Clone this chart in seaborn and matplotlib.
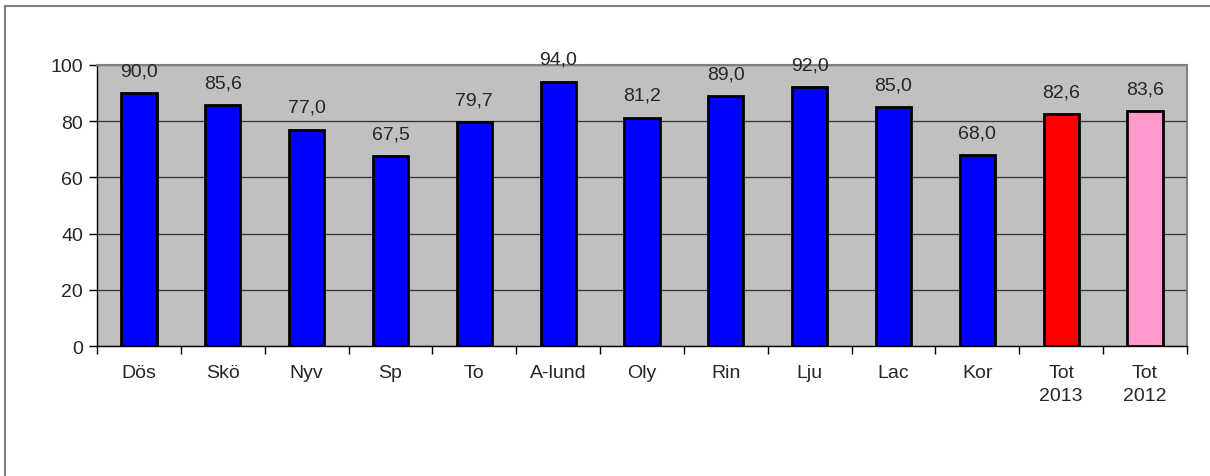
import matplotlib
matplotlib.use("Agg")
import matplotlib.pyplot as plt
import seaborn as sns
import pandas as pd
from matplotlib.patches import Rectangle

categories = ["Dös", "Skö", "Nyv", "Sp", "To", "A-lund", "Oly", "Rin", "Lju", "Lac", "Kor", "Tot\n2013", "Tot\n2012"]
values = [90.0, 85.6, 77.0, 67.5, 79.7, 94.0, 81.2, 89.0, 92.0, 85.0, 68.0, 82.6, 83.6]
colors = ["#0000FF"] * 11 + ["#FF0000", "#FF99CC"]
yticks = [0, 20, 40, 60, 80, 100]

sns.set_theme(style="white")
plt.rcParams['font.family'] = ['Liberation Sans', 'DejaVu Sans']

df = pd.DataFrame({"cat": categories, "val": values})
FS = 14

fig = plt.figure(figsize=(12.10, 4.77), dpi=100)
fig.patch.set_facecolor("white")
ax = fig.add_axes([97/1210, 1 - 347/477, (1187-97)/1210, (347-66)/477])

sns.barplot(data=df, x="cat", y="val", hue="cat", palette=colors, legend=False,
            width=0.42, edgecolor="black", linewidth=2, saturation=1, ax=ax, zorder=3)

ax.set_facecolor("#C0C0C0")
ax.set_ylim(0, 100)
ax.set_xlim(-0.5, len(categories) - 0.5)
ax.set_yticks(yticks)
ax.set_yticklabels([str(t) for t in yticks], fontsize=FS)
ax.yaxis.grid(True, color="#000000", linewidth=0.9, alpha=0.75, zorder=1)
ax.set_axisbelow(True)
ax.set_xlabel("")
ax.set_ylabel("")

ax.set_xticks(range(len(categories)))
ax.set_xticklabels(categories, fontsize=FS, linespacing=1.45)
ax.set_xticks([i - 0.5 for i in range(len(categories) + 1)], minor=True)
ax.tick_params(axis="x", which="major", length=0, pad=13)
ax.tick_params(axis="x", which="minor", length=6, width=1, color="black", direction="out", bottom=True)
ax.tick_params(axis="y", which="major", length=6, width=1, color="black", direction="out", left=True, pad=4)

for s in ["top", "right"]:
    ax.spines[s].set_color("#808080")
    ax.spines[s].set_linewidth(1.5)
for s in ["left", "bottom"]:
    ax.spines[s].set_color("black")
    ax.spines[s].set_linewidth(1)

for i, v in enumerate(values):
    ax.annotate(f"{v:.1f}".replace(".", ","), xy=(i, v), xytext=(0, 10),
                textcoords="offset points", ha="center", va="bottom", fontsize=FS)

fig.patches.append(Rectangle((5/1210, -0.1), 1.1, 1 - 7/477 + 0.1, transform=fig.transFigure,
                             fill=False, edgecolor="#808080", linewidth=1.5))

fig.savefig("out.png", dpi=100)
